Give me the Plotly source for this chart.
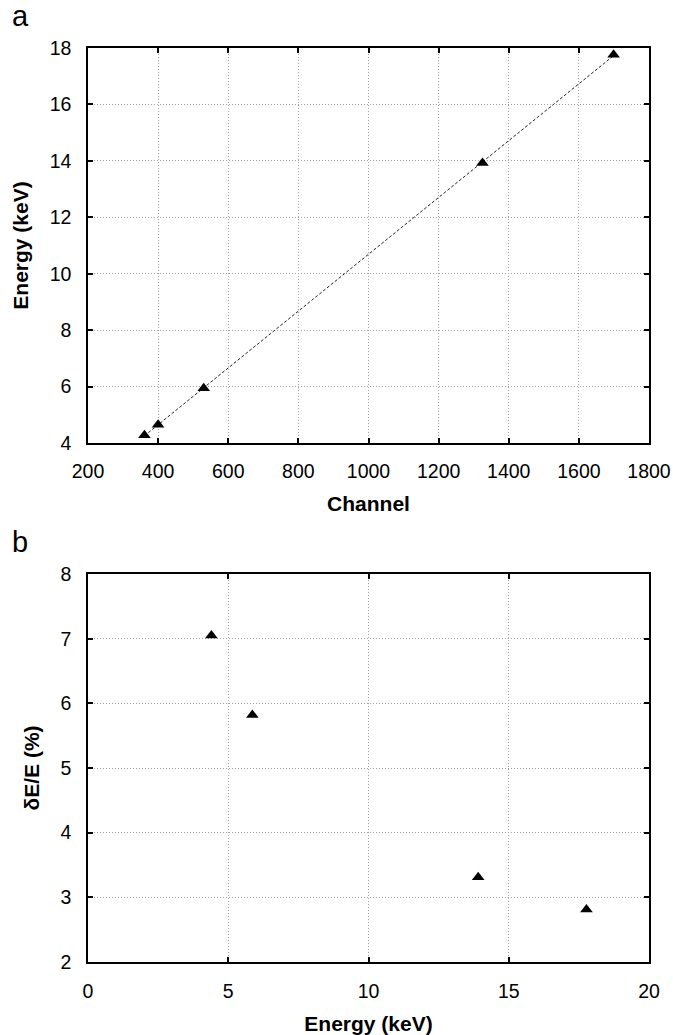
import numpy as np
import plotly.graph_objects as go

# Panel a: calibration
channel = [361, 400, 530, 1325, 1699]
energy_a = [4.28, 4.65, 5.94, 13.92, 17.76]
# Panel b: resolution
energy_b = [4.40, 5.86, 13.91, 17.77]
resolution = [7.05, 5.82, 3.31, 2.81]

xa_ticks = [200, 400, 600, 800, 1000, 1200, 1400, 1600, 1800]
ya_ticks = [4, 6, 8, 10, 12, 14, 16, 18]
xb_ticks = [0, 5, 10, 15, 20]
yb_ticks = [2, 3, 4, 5, 6, 7, 8]

slope, intercept = np.polyfit(channel, energy_a, 1)
fit_x = np.array([min(channel), max(channel)])
fit_y = slope * fit_x + intercept

FONT = "Liberation Sans, Arial, sans-serif"

fig = go.Figure()
fig.add_trace(go.Scatter(x=fit_x, y=fit_y, mode="lines",
                         line=dict(color="#222222", width=1, dash="3px,2px"),
                         xaxis="x", yaxis="y", showlegend=False))
fig.add_trace(go.Scatter(x=channel, y=energy_a, mode="markers",
                         marker=dict(symbol="triangle-up", size=11, color="black"),
                         xaxis="x", yaxis="y", showlegend=False))
fig.add_trace(go.Scatter(x=energy_b, y=resolution, mode="markers",
                         marker=dict(symbol="triangle-up", size=11, color="black"),
                         xaxis="x2", yaxis="y2", showlegend=False))

axis_common = dict(
    showline=True, linecolor="black", linewidth=1.5, mirror="ticks",
    ticks="inside", ticklen=5, tickwidth=1.5, tickcolor="black",
    showgrid=True, gridcolor="#a0a0a0", gridwidth=1, griddash="1px,2px",
    zeroline=False, automargin=False,
    tickfont=dict(family=FONT, size=19.5, color="black"),
)
title_font = dict(family=FONT, size=21, color="black")

fig.update_layout(
    width=673, height=1035,
    margin=dict(l=88, r=24, t=48, b=73),
    paper_bgcolor="white", plot_bgcolor="white",
    xaxis=dict(domain=[0, 1], anchor="y", range=[200, 1800], tickvals=xa_ticks,
               title=dict(text="<b>Channel</b>", font=title_font, standoff=15),
               ticklabelstandoff=10, **axis_common),
    yaxis=dict(domain=[0.5678, 1], anchor="x", range=[4, 18], tickvals=ya_ticks,
               title=dict(text="<b>Energy (keV)</b>", font=title_font, standoff=15),
               ticklabelstandoff=11, **axis_common),
    xaxis2=dict(domain=[0, 1], anchor="y2", range=[0, 20], tickvals=xb_ticks,
                title=dict(text="<b>Energy (keV)</b>", font=title_font, standoff=15),
                ticklabelstandoff=11, **axis_common),
    yaxis2=dict(domain=[0, 0.4245], anchor="x2", range=[2, 8], tickvals=yb_ticks,
                title=dict(text="<b>δE/E (%)</b>", font=title_font, standoff=15),
                ticklabelstandoff=11, **axis_common),
    annotations=[
        dict(text="a", x=20, y=-2, xref="paper", yref="paper", showarrow=False,
             font=dict(family=FONT, size=29, color="black")),
        dict(text="b", x=20, y=524, xref="paper", yref="paper", showarrow=False,
             font=dict(family=FONT, size=29, color="black")),
    ],
)
# convert pixel positions of panel letters to paper coords
plot_w = 673 - 88 - 24
plot_h = 1035 - 48 - 73
for ann in fig.layout.annotations:
    px, py = ann.x, ann.y
    ann.x = (px - 88) / plot_w
    ann.y = (1035 - 73 - py) / plot_h
    ann.xanchor = "center"
    ann.yanchor = "top"

fig.write_html(
    "out.html",
    config={"displayModeBar": False},
    post_script="document.body.style.margin='0';document.body.style.overflow='hidden';",
)
